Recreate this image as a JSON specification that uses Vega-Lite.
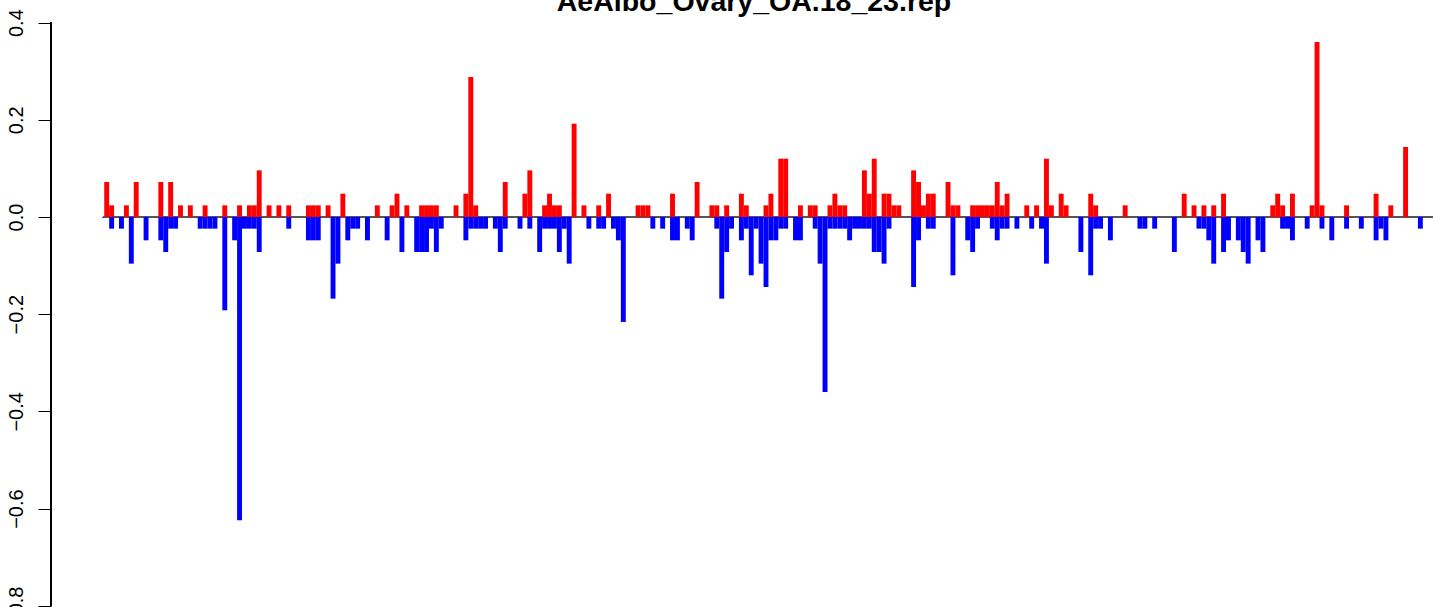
{
"$schema": "https://vega.github.io/schema/vega-lite/v6.json",
"width": 1382,
"height": 607,
"autosize": {"type": "none"},
"padding": {"left": 51, "top": 0, "right": 0, "bottom": 0},
"background": "white",
"config": {"view": {"stroke": null}, "font": "Liberation Sans"},
"title": {"text": "AeAlbo_Ovary_OA.18_23.rep", "font": "Liberation Sans", "fontSize": 28.5, "fontWeight": "bold", "color": "black", "anchor": "middle", "frame": "group", "baseline": "alphabetic", "offset": -14, "dx": 12, "dy": 25},
"datasets": {
"bars": [
{"i":0,"v":0.072},{"i":1,"v":0.024},{"i":4,"v":0.024},{"i":6,"v":0.072},{"i":11,"v":0.072},{"i":13,"v":0.072},{"i":15,"v":0.024},{"i":17,"v":0.024},{"i":20,"v":0.024},{"i":24,"v":0.024},{"i":27,"v":0.024},{"i":29,"v":0.024},{"i":30,"v":0.024},{"i":31,"v":0.096},{"i":33,"v":0.024},{"i":35,"v":0.024},{"i":37,"v":0.024},{"i":41,"v":0.024},{"i":42,"v":0.024},{"i":43,"v":0.024},{"i":45,"v":0.024},{"i":48,"v":0.048},{"i":55,"v":0.024},{"i":58,"v":0.024},{"i":59,"v":0.048},{"i":61,"v":0.024},{"i":64,"v":0.024},{"i":65,"v":0.024},{"i":66,"v":0.024},{"i":67,"v":0.024},{"i":71,"v":0.024},{"i":73,"v":0.048},{"i":74,"v":0.288},{"i":75,"v":0.024},{"i":81,"v":0.072},{"i":85,"v":0.048},{"i":86,"v":0.096},{"i":89,"v":0.024},{"i":90,"v":0.048},{"i":91,"v":0.024},{"i":92,"v":0.024},{"i":95,"v":0.192},{"i":97,"v":0.024},{"i":100,"v":0.024},{"i":102,"v":0.048},{"i":108,"v":0.024},{"i":109,"v":0.024},{"i":110,"v":0.024},{"i":115,"v":0.048},{"i":120,"v":0.072},{"i":123,"v":0.024},{"i":124,"v":0.024},{"i":126,"v":0.024},{"i":129,"v":0.048},{"i":130,"v":0.024},{"i":134,"v":0.024},{"i":135,"v":0.048},{"i":137,"v":0.12},{"i":138,"v":0.12},{"i":141,"v":0.024},{"i":143,"v":0.024},{"i":144,"v":0.024},{"i":147,"v":0.024},{"i":148,"v":0.048},{"i":149,"v":0.024},{"i":150,"v":0.024},{"i":154,"v":0.096},{"i":155,"v":0.048},{"i":156,"v":0.12},{"i":158,"v":0.048},{"i":159,"v":0.048},{"i":160,"v":0.024},{"i":161,"v":0.024},{"i":164,"v":0.096},{"i":165,"v":0.072},{"i":166,"v":0.024},{"i":167,"v":0.048},{"i":168,"v":0.048},{"i":171,"v":0.072},{"i":172,"v":0.024},{"i":173,"v":0.024},{"i":176,"v":0.024},{"i":177,"v":0.024},{"i":178,"v":0.024},{"i":179,"v":0.024},{"i":180,"v":0.024},{"i":181,"v":0.072},{"i":182,"v":0.024},{"i":183,"v":0.048},{"i":187,"v":0.024},{"i":189,"v":0.024},{"i":191,"v":0.12},{"i":192,"v":0.024},{"i":194,"v":0.048},{"i":195,"v":0.024},{"i":200,"v":0.048},{"i":201,"v":0.024},{"i":207,"v":0.024},{"i":219,"v":0.048},{"i":221,"v":0.024},{"i":223,"v":0.024},{"i":225,"v":0.024},{"i":227,"v":0.048},{"i":237,"v":0.024},{"i":238,"v":0.048},{"i":239,"v":0.024},{"i":241,"v":0.048},{"i":245,"v":0.024},{"i":246,"v":0.36},{"i":247,"v":0.024},{"i":252,"v":0.024},{"i":258,"v":0.048},{"i":261,"v":0.024},{"i":264,"v":0.144},
{"i":1,"v":-0.024},{"i":3,"v":-0.024},{"i":5,"v":-0.096},{"i":8,"v":-0.048},{"i":11,"v":-0.048},{"i":12,"v":-0.072},{"i":13,"v":-0.024},{"i":14,"v":-0.024},{"i":19,"v":-0.024},{"i":20,"v":-0.024},{"i":21,"v":-0.024},{"i":22,"v":-0.024},{"i":24,"v":-0.192},{"i":26,"v":-0.048},{"i":27,"v":-0.624},{"i":28,"v":-0.024},{"i":29,"v":-0.024},{"i":30,"v":-0.024},{"i":31,"v":-0.072},{"i":37,"v":-0.024},{"i":41,"v":-0.048},{"i":42,"v":-0.048},{"i":43,"v":-0.048},{"i":46,"v":-0.168},{"i":47,"v":-0.096},{"i":49,"v":-0.048},{"i":50,"v":-0.024},{"i":51,"v":-0.024},{"i":53,"v":-0.048},{"i":57,"v":-0.048},{"i":60,"v":-0.072},{"i":63,"v":-0.072},{"i":64,"v":-0.072},{"i":65,"v":-0.072},{"i":66,"v":-0.024},{"i":67,"v":-0.072},{"i":68,"v":-0.024},{"i":73,"v":-0.048},{"i":74,"v":-0.024},{"i":75,"v":-0.024},{"i":76,"v":-0.024},{"i":77,"v":-0.024},{"i":79,"v":-0.024},{"i":80,"v":-0.072},{"i":81,"v":-0.024},{"i":84,"v":-0.024},{"i":86,"v":-0.024},{"i":88,"v":-0.072},{"i":89,"v":-0.024},{"i":90,"v":-0.024},{"i":91,"v":-0.024},{"i":92,"v":-0.072},{"i":93,"v":-0.024},{"i":94,"v":-0.096},{"i":98,"v":-0.024},{"i":100,"v":-0.024},{"i":101,"v":-0.024},{"i":103,"v":-0.024},{"i":104,"v":-0.048},{"i":105,"v":-0.216},{"i":111,"v":-0.024},{"i":113,"v":-0.024},{"i":115,"v":-0.048},{"i":116,"v":-0.048},{"i":118,"v":-0.024},{"i":119,"v":-0.048},{"i":124,"v":-0.024},{"i":125,"v":-0.168},{"i":126,"v":-0.072},{"i":127,"v":-0.024},{"i":129,"v":-0.048},{"i":130,"v":-0.024},{"i":131,"v":-0.12},{"i":132,"v":-0.024},{"i":133,"v":-0.096},{"i":134,"v":-0.144},{"i":135,"v":-0.048},{"i":136,"v":-0.048},{"i":137,"v":-0.024},{"i":138,"v":-0.024},{"i":140,"v":-0.048},{"i":141,"v":-0.048},{"i":144,"v":-0.024},{"i":145,"v":-0.096},{"i":146,"v":-0.36},{"i":147,"v":-0.024},{"i":148,"v":-0.024},{"i":149,"v":-0.024},{"i":150,"v":-0.024},{"i":151,"v":-0.048},{"i":152,"v":-0.024},{"i":153,"v":-0.024},{"i":154,"v":-0.024},{"i":155,"v":-0.024},{"i":156,"v":-0.072},{"i":157,"v":-0.072},{"i":158,"v":-0.096},{"i":159,"v":-0.024},{"i":164,"v":-0.144},{"i":165,"v":-0.048},{"i":167,"v":-0.024},{"i":168,"v":-0.024},{"i":172,"v":-0.12},{"i":175,"v":-0.048},{"i":176,"v":-0.072},{"i":177,"v":-0.024},{"i":180,"v":-0.024},{"i":181,"v":-0.048},{"i":182,"v":-0.024},{"i":183,"v":-0.024},{"i":185,"v":-0.024},{"i":188,"v":-0.024},{"i":190,"v":-0.024},{"i":191,"v":-0.096},{"i":198,"v":-0.072},{"i":200,"v":-0.12},{"i":201,"v":-0.024},{"i":202,"v":-0.024},{"i":204,"v":-0.048},{"i":210,"v":-0.024},{"i":211,"v":-0.024},{"i":213,"v":-0.024},{"i":217,"v":-0.072},{"i":222,"v":-0.024},{"i":223,"v":-0.024},{"i":224,"v":-0.048},{"i":225,"v":-0.096},{"i":227,"v":-0.072},{"i":228,"v":-0.048},{"i":230,"v":-0.048},{"i":231,"v":-0.072},{"i":232,"v":-0.096},{"i":234,"v":-0.048},{"i":235,"v":-0.072},{"i":239,"v":-0.024},{"i":240,"v":-0.024},{"i":241,"v":-0.048},{"i":244,"v":-0.024},{"i":247,"v":-0.024},{"i":249,"v":-0.048},{"i":252,"v":-0.024},{"i":255,"v":-0.024},{"i":258,"v":-0.048},{"i":259,"v":-0.024},{"i":260,"v":-0.048},{"i":267,"v":-0.024}
]
},
"data": {"name": "bars"},
"layer": [
{
"mark": {"type": "rule", "color": "#555555", "strokeWidth": 1, "clip": true, "yOffset": 0.5},
"encoding": {
"x": {"datum": -0.2, "type": "quantitative", "scale": {"domain": [-10.72, 270.17], "nice": false, "zero": false}, "axis": null},
"x2": {"datum": 290},
"y": {"datum": 0, "type": "quantitative"}
}
},
{
"mark": {"type": "rule", "color": "black", "strokeWidth": 1},
"encoding": {
"x": {"datum": -10.72, "type": "quantitative"},
"y": {"datum": 0.4, "type": "quantitative"},
"y2": {"datum": -0.8}
}
},
{
"mark": {"type": "bar", "binSpacing": 0, "clip": true},
"encoding": {
"x": {"field": "i", "type": "quantitative", "bin": {"step": 1, "extent": [0, 268], "nice": false}},
"y": {"field": "v", "type": "quantitative",
 "scale": {"domain": [-0.8025, 0.4465], "nice": false, "zero": false},
 "axis": {"values": [-0.8, -0.6, -0.4, -0.2, 0, 0.2, 0.4], "format": ".1f", "title": null, "grid": false, "domain": false, "ticks": true, "tickSize": 13, "tickColor": "black", "tickWidth": 1, "labelAngle": -90, "labelAlign": "center", "labelBaseline": "alphabetic", "labelPadding": 16, "labelFont": "Liberation Sans", "labelFontSize": 20, "labelColor": "black", "labelOverlap": false, "labelBound": false, "labelFlush": false}},
"y2": {"datum": 0},
"color": {"condition": {"test": "datum.v > 0", "value": "#FF0000"}, "value": "#0000FF"}
}
}
]
}
